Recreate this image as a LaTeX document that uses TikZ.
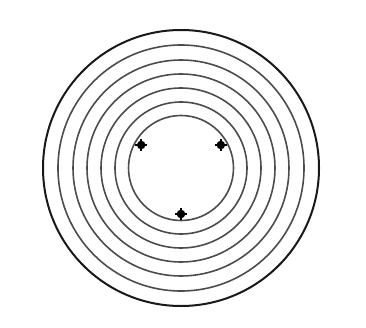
\documentclass[tikz,border=0pt]{standalone}
\usepackage{tikz}
\usetikzlibrary{calc}

\tikzset{
	ring/.style={draw=black!70, line width=1.6pt},
	rim/.style={draw=black!90, line width=2pt},
	pin/.style={fill=black}
}

\begin{document}
\begin{tikzpicture}[x=1pt, y=1pt]
		\useasboundingbox (0,0) rectangle (366,327);
		% disc centre
		\coordinate (c) at (181,159);
		% outer rim
		\draw[rim] (c) circle (138);
		% grooves
		\foreach \r in {123,108,94,80,66,52.5} \draw[ring] (c) circle (\r);
		% three locating pins
		\foreach \a/\n in {150/pinl,30/pinr,270/pinb} {
			\coordinate (\n) at ($(c)+(\a:46)$);
			\fill[pin] (\n) circle (4.3);
			\fill[pin] ($(\n)+(-6,-0.8)$) rectangle ($(\n)+(6,0.8)$);
			\fill[pin] ($(\n)+(-0.8,-6)$) rectangle ($(\n)+(0.8,6)$);
		}
	\end{tikzpicture}
\end{document}
